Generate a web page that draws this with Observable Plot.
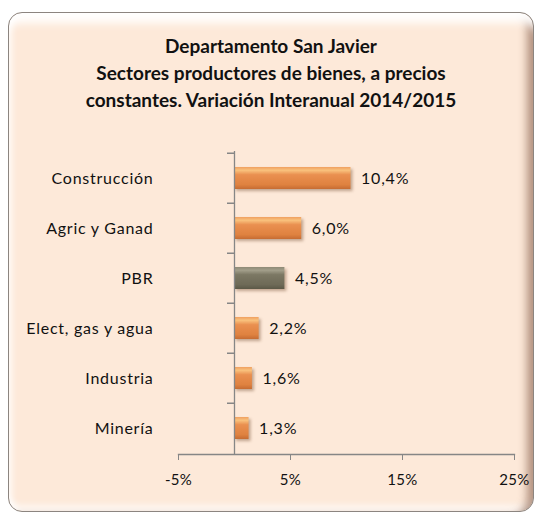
<!DOCTYPE html>
<html><head><meta charset="utf-8">
<script src="https://cdn.jsdelivr.net/npm/d3@7"></script>
<script src="https://cdn.jsdelivr.net/npm/@observablehq/plot@0.6"></script>
<style>
body{margin:0;background:#fff;}
#frame{position:absolute;left:8px;top:12px;width:526px;height:500px;box-sizing:border-box;border:1px solid #8c8580;border-radius:14px;background:#fde9d9;
box-shadow: inset 0 20px 8px -10px rgba(255,255,255,0.97), inset -11px 0 8px -5px rgba(140,100,80,0.65), inset 7px 0 6px -4px rgba(255,255,255,0.8), inset 0 -10px 6px -4px rgba(255,255,255,0.65);
font-family:Lato,sans-serif;overflow:hidden;}
#title{height:110px;box-sizing:border-box;padding-top:19px;text-align:center;font-weight:bold;font-size:19px;line-height:27px;color:#111;}
.bars rect{filter:drop-shadow(2px 2px 1.5px rgba(120,80,50,0.45));}
#chart g[aria-label="y-axis tick label"] text{letter-spacing:0.75px;}
#chart g[aria-label="text"] text{letter-spacing:0.8px;}
#chart g[aria-label="x-axis tick label"] text{letter-spacing:0.3px;}
</style></head><body>
<div id="frame"><div id="title">Departamento San Javier<br>Sectores productores de bienes, a precios<br>constantes. Variación Interanual 2014/2015</div><div id="chart"></div></div>
<script>
const categories = ["Construcción", "Agric y Ganad", "PBR", "Elect, gas y agua", "Industria", "Minería"];
const values = [10.4, 6.0, 4.5, 2.2, 1.6, 1.3];
const highlighted = ["PBR"];
const xTicks = [-5, 5, 15, 25];
const xDomain = [-5, 25];

const data = categories.map((c, i) => ({sector: c, value: values[i]}));
const W = 524, H = 388, mT = 28, mB = 57, mL = 169, mR = 19;
const step = (H - mT - mB) / categories.length;
const pxPerUnit = (W - mL - mR) / (xDomain[1] - xDomain[0]);
const fmt = v => v.toFixed(1).replace(".", ",") + "%";
const axisColor = "#868686";

const chart = Plot.plot({
  width: W, height: H,
  marginTop: mT, marginBottom: mB, marginLeft: mL, marginRight: mR,
  style: {background: "transparent", fontFamily: "Lato, sans-serif", fontSize: "16px", color: "#111"},
  x: {domain: xDomain},
  y: {domain: categories, paddingInner: 0.57, paddingOuter: 0.285},
  marks: [
    Plot.barX(data.filter(d => !highlighted.includes(d.sector)), {x: "value", y: "sector", fill: "url(#gOrange)", className: "bars"}),
    Plot.barX(data.filter(d => highlighted.includes(d.sector)), {x: "value", y: "sector", fill: "url(#gGray)", className: "bars"}),
    Plot.ruleX([0], {stroke: axisColor, strokeWidth: 1.3}),
    Plot.ruleY(categories, {y: d => d, x1: 0, x2: -7 / pxPerUnit, dy: -step / 2, stroke: axisColor, strokeWidth: 1.3}),
    Plot.frame({anchor: "bottom", stroke: axisColor, strokeWidth: 1.3}),
    Plot.axisX({ticks: xTicks, tickFormat: d => d + "%", tickSize: 6, tickPadding: 14, label: null, stroke: axisColor, fontSize: 15}),
    Plot.axisY({tickSize: 0, tickPadding: 25, label: null, fontSize: 16}),
    Plot.text(data, {x: "value", y: "sector", text: d => fmt(d.value), textAnchor: "start", dx: 10, fontSize: 16, fill: "#111"})
  ]
});

const svg = d3.select(chart);
const defs = svg.insert("defs", ":first-child");
function grad(id, stops) {
  const g = defs.append("linearGradient").attr("id", id).attr("x1", 0).attr("y1", 0).attr("x2", 0).attr("y2", 1);
  stops.forEach(([o, c]) => g.append("stop").attr("offset", o).attr("stop-color", c));
}
grad("gOrange", [[0, "#f0a060"], [0.15, "#f9c27d"], [0.35, "#ea9050"], [0.8, "#df8240"], [1, "#c66c33"]]);
grad("gGray", [[0, "#8e8a76"], [0.15, "#a29e8a"], [0.35, "#7c7864"], [0.8, "#6e6a57"], [1, "#5b5847"]]);

document.getElementById("chart").appendChild(chart);
</script>
</body></html>
